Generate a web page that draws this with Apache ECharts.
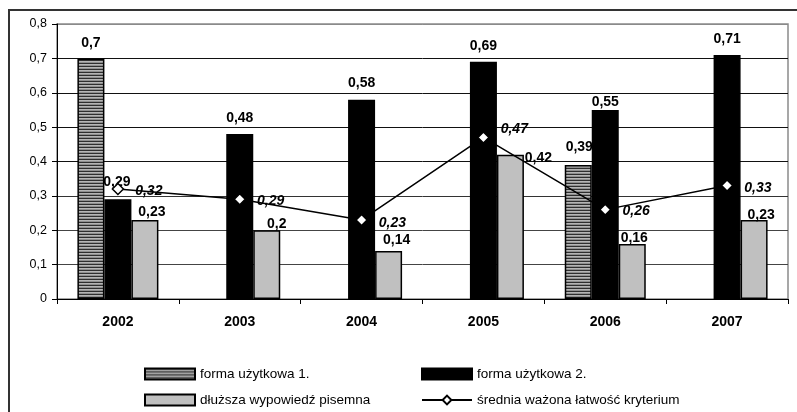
<!DOCTYPE html>
<html>
<head>
<meta charset="utf-8">
<script src="https://cdn.jsdelivr.net/npm/echarts@6/dist/echarts.min.js"></script>
<style>
  html, body { margin: 0; padding: 0; background: #fff; }
  #chart { width: 797px; height: 412px; }
</style>
</head>
<body>
<div id="chart"></div>
<script>
// Years on the category axis
const years = ['2002', '2003', '2004', '2005', '2006', '2007'];

// Bar series values (null = no bar that year)
const formaUzytkowa1 = [0.7, null, null, null, 0.39, null];
const formaUzytkowa2 = [0.29, 0.48, 0.58, 0.69, 0.55, 0.71];
const dluzszaWypowiedz = [0.23, 0.2, 0.14, 0.42, 0.16, 0.23];

// Weighted average line
const sredniaWazona = [0.32, 0.29, 0.23, 0.47, 0.26, 0.33];

// Value axis ticks
const yTicks = [0, 0.1, 0.2, 0.3, 0.4, 0.5, 0.6, 0.7, 0.8];

const seriesNames = [
  'forma użytkowa 1.',
  'forma użytkowa 2.',
  'dłuższa wypowiedź pisemna',
  'średnia ważona łatwość kryterium'
];

// Hand-placed label nudges [dx, dy], kept apart from the values
const nudge1 = [[0, 1], null, null, null, [1, -2], null];
const nudge2 = [[-1, -1], [0, 0], [0, 0], [0, 0], [0, 8], [0, 0]];
const nudge3 = [[7, 8], [10, 10], [8, 5], [28, 20], [2, 10], [7, 11]];
const nudgeLine = [[0, 2], [0, 2], [0, 3], [0, -8], [0, 2], [0, 3]];

const comma = v => String(+(+v).toFixed(2)).replace('.', ',');

// Horizontal stripe fill for the first bar series
function stripes() {
  const c = document.createElement('canvas');
  c.width = 4; c.height = 3;
  const g = c.getContext('2d');
  const rows = ['#2e2e2e', '#b4b4b4', '#8e8e8e'];
  rows.forEach((col, i) => { g.fillStyle = col; g.fillRect(0, i, 4, 1); });
  return c;
}

function withNudges(values, nudges) {
  return values.map((v, i) => {
    if (v === null) return null;
    const n = nudges[i] || [0, 0];
    return { value: v, label: { offset: n } };
  });
}

const font = 'Liberation Sans, Arial, sans-serif';
const barLabel = {
  show: true, position: 'top', distance: 9,
  fontFamily: font, fontSize: 14, fontWeight: 'bold', color: '#000',
  formatter: p => comma(p.value)
};

const chart = echarts.init(document.getElementById('chart'), null, { renderer: 'canvas' });

const legendBase = {
  orient: 'horizontal', padding: 0, itemWidth: 50, itemHeight: 11, itemGap: 0,
  textStyle: { fontFamily: font, fontSize: 13.5, color: '#000' },
  selectedMode: false
};

chart.setOption({
  animation: false,
  backgroundColor: '#fff',
  textStyle: { fontFamily: font },
  graphic: [{
    type: 'rect',
    shape: { x: 9, y: 10, width: 840, height: 440 },
    style: { fill: 'none', stroke: '#333', lineWidth: 2 },
    silent: true, z: -10
  }],
  grid: {
    left: 57, right: 9, top: 24, bottom: 113,
    show: true, borderColor: '#8a8a8a', borderWidth: 1.5, backgroundColor: 'transparent'
  },
  legend: [
    Object.assign({}, legendBase, { data: [{ name: seriesNames[0], icon: 'rect' }], left: 144, top: 367 }),
    Object.assign({}, legendBase, { data: [{ name: seriesNames[1], icon: 'rect' }], left: 421, top: 367 }),
    Object.assign({}, legendBase, { data: [{ name: seriesNames[2], icon: 'rect' }], left: 144, top: 393 }),
    Object.assign({}, legendBase, { data: [seriesNames[3]], left: 421, top: 393 })
  ],
  xAxis: {
    type: 'category',
    data: years,
    axisLine: { lineStyle: { color: '#000', width: 1 } },
    axisTick: { show: true, length: 5, lineStyle: { color: '#000' } },
    axisLabel: { fontFamily: font, fontSize: 14, fontWeight: 'bold', color: '#000', margin: 16 },
    splitLine: { show: false }
  },
  yAxis: {
    type: 'value',
    min: yTicks[0], max: yTicks[yTicks.length - 1], interval: 0.1,
    axisLine: { show: true, lineStyle: { color: '#000', width: 1 } },
    axisTick: { show: true, length: 5, lineStyle: { color: '#000' } },
    axisLabel: { fontFamily: font, fontSize: 12.5, color: '#000', margin: 10, formatter: v => comma(v) },
    splitLine: {
      show: true,
      lineStyle: {
        width: 1,
        color: ['#000', '#444', '#444', '#333', '#111', '#111', '#111', '#111', '#8a8a8a']
      }
    }
  },
  series: [
    {
      name: seriesNames[0], type: 'bar', barWidth: 27, barGap: '0%',
      data: withNudges(formaUzytkowa1, nudge1),
      itemStyle: { color: { image: stripes(), repeat: 'repeat' }, borderColor: '#000', borderWidth: 1.5 },
      label: barLabel
    },
    {
      name: seriesNames[1], type: 'bar', barWidth: 27, barGap: '0%',
      data: withNudges(formaUzytkowa2, nudge2),
      itemStyle: { color: '#000', borderColor: '#000', borderWidth: 1.5 },
      label: barLabel
    },
    {
      name: seriesNames[2], type: 'bar', barWidth: 27, barGap: '0%',
      data: withNudges(dluzszaWypowiedz, nudge3),
      itemStyle: { color: '#c0c0c0', borderColor: '#000', borderWidth: 1.5 },
      label: barLabel
    },
    {
      name: seriesNames[3], type: 'line', z: 5,
      data: withNudges(sredniaWazona, nudgeLine),
      symbol: 'diamond', symbolSize: 11,
      lineStyle: { color: '#000', width: 1.5 },
      itemStyle: { color: '#fff', borderColor: '#000', borderWidth: 1.5 },
      label: {
        show: true, position: 'right', distance: 11,
        fontFamily: font, fontSize: 14, fontWeight: 'bold', fontStyle: 'italic', color: '#000',
        formatter: p => comma(p.value)
      }
    }
  ]
});
</script>
</body>
</html>
